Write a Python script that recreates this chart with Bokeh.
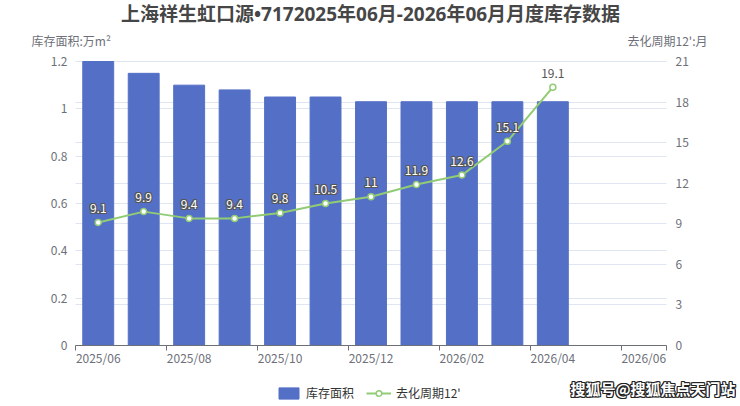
from bokeh.plotting import figure
from bokeh.models import (ColumnDataSource, Range1d, LinearAxis,
                          FixedTicker, Legend, LegendItem)
from bokeh.core.properties import value
from bokeh.embed import file_html
from bokeh.resources import INLINE

FONT = "Noto Sans CJK SC"
TITLE_FONT = "Noto Sans, Noto Sans CJK SC"

title = "上海祥生虹口源•7172025年06月-2026年06月月度库存数据"
months = ["2025/06", "2025/07", "2025/08", "2025/09", "2025/10", "2025/11", "2025/12",
          "2026/01", "2026/02", "2026/03", "2026/04", "2026/05", "2026/06"]
area = [1.2, 1.15, 1.1, 1.08, 1.05, 1.05, 1.03, 1.03, 1.03, 1.03, 1.03]
cycle = [9.1, 9.9, 9.4, 9.4, 9.8, 10.5, 11, 11.9, 12.6, 15.1, 19.1]
left_ticks = [0, 0.2, 0.4, 0.6, 0.8, 1, 1.2]
right_ticks = [0, 3, 6, 9, 12, 15, 18, 21]
left_name = "库存面积:万m²"
right_name = "去化周期12':月"
series_names = ["库存面积", "去化周期12'"]
watermark = "搜狐号@搜狐焦点天门站"

GRAY = "#6E7079"
GRID = "#E0E6F1"
BAR = "#5470c6"
LINE = "#91cc75"

W, H = 740, 406
# plot area inside the canvas (pixels)
L, R, T, B = 75, 666, 61, 345
n = len(months)
left_max, right_max = left_ticks[-1], right_ticks[-1]
px_x = (R - L) / n
px_y = (B - T) / left_max
px_r = (B - T) / right_max

src = ColumnDataSource(data=dict(
    x=[i + 0.5 for i in range(len(area))],
    area=area,
    cycle=cycle,
    label=[f"{v:g}" for v in cycle],
))
# labels that sit on a bar are white with a dark rim, others dark with a white rim
on_bar = [(c + 1.2) / right_max < a / left_max for c, a in zip(cycle, area)]
src.data["fill"] = ["white" if o else "#555555" for o in on_bar]
src.data["rim"] = ["#555555" if o else "white" for o in on_bar]

# the frame covers the whole canvas; axes are pinned to the plot area
p = figure(width=W, height=H,
           x_range=Range1d(-L / px_x, (W - L) / px_x),
           y_range=Range1d(-(H - B) / px_y, B / px_y),
           x_axis_type=None, y_axis_type=None,
           output_backend="svg", toolbar_location=None,
           min_border=0, outline_line_color=None)
p.extra_y_ranges = {"right": Range1d(-(H - B) / px_r, B / px_r)}
p.xgrid.visible = False
p.ygrid.visible = False

# y axes; their long inward ticks act as the grid lines
def y_axis(ticks, **kw):
    return LinearAxis(ticker=FixedTicker(ticks=ticks),
                      major_label_overrides={t: f"{t:g}" for t in ticks},
                      axis_line_color=None, major_tick_line_color=GRID,
                      major_tick_in=int(R - L), major_tick_out=0,
                      minor_tick_line_color=None, level="underlay",
                      major_label_text_color=GRAY, major_label_text_font_size="12px",
                      major_label_text_font=FONT, **kw)

left_ax = y_axis(left_ticks, major_label_standoff=8, fixed_location=0)
right_ax = y_axis(right_ticks, y_range_name="right", major_label_standoff=9,
                  fixed_location=n)
p.add_layout(left_ax, "left")
p.add_layout(right_ax, "right")

# x axis: ticks on category boundaries, labels on every other category
bounds_ticks = list(range(0, n, 2)) + [n]
tick_ax = LinearAxis(ticker=FixedTicker(ticks=bounds_ticks),
                     fixed_location=0, bounds=(0, n),
                     major_label_overrides={t: "" for t in bounds_ticks},
                     major_label_text_color=None,
                     axis_line_color=GRAY, major_tick_line_color=GRAY,
                     major_tick_out=5, major_tick_in=0, minor_tick_line_color=None)
centers = [i + 0.5 for i in range(0, n, 2)]
label_ax = LinearAxis(ticker=FixedTicker(ticks=centers), fixed_location=0,
                      major_label_overrides={c: months[int(c)] for c in centers},
                      axis_line_color=None, major_tick_line_color=None,
                      major_tick_in=0, major_tick_out=0,
                      minor_tick_line_color=None, major_label_standoff=3,
                      major_label_text_color=GRAY, major_label_text_font_size="12px",
                      major_label_text_font=FONT)
p.add_layout(tick_ax, "below")
p.add_layout(label_ax, "below")

bars = p.vbar(x="x", top="area", width=0.68, source=src,
              fill_color=BAR, line_color=BAR)
line = p.line(x="x", y="cycle", source=src, y_range_name="right",
              line_color=LINE, line_width=2)
pts = p.scatter(x="x", y="cycle", source=src, y_range_name="right",
                size=6, fill_color="white", line_color=LINE, line_width=1.5)

# point labels with a rim
for dx in (-1, 0, 1):
    for dy in (-1, 0, 1):
        if dx == 0 and dy == 0:
            continue
        p.text(x="x", y="cycle", text="label", source=src, y_range_name="right",
               x_offset=dx, y_offset=-14 + dy, text_color="rim",
               text_align="center", text_baseline="middle",
               text_font=value(FONT), text_font_size="12px")
p.text(x="x", y="cycle", text="label", source=src, y_range_name="right",
       y_offset=-14, text_color="fill", text_align="center", text_baseline="middle",
       text_font=value(FONT), text_font_size="12px")

# title, axis names, watermark (positions in pixels of the canvas)
def at(px, py):
    return dict(x=[(px - L) / px_x], y=[(B - py) / px_y])

p.text(text=[title], **at(370, 13), text_align="center", text_baseline="middle",
       text_font=value(TITLE_FONT), text_font_size="19px", text_font_style="bold",
       text_color="#464646")
p.text(text=[left_name], **at(31, 40), text_align="left", text_baseline="middle",
       text_font=value(FONT), text_font_size="12px", text_color=GRAY)
p.text(text=[right_name], **at(707, 40), text_align="right", text_baseline="middle",
       text_font=value(FONT), text_font_size="12px", text_color=GRAY)

for dx in (-1, 0, 1):
    for dy in (-1, 0, 1):
        p.text(text=[watermark], **at(735, 388), x_offset=dx, y_offset=dy,
               text_align="right", text_baseline="middle",
               text_font=value(FONT), text_font_size="15px", text_font_style="bold",
               text_color="#222222")
p.text(text=[watermark], **at(735, 388), text_align="right", text_baseline="middle",
       text_font=value(FONT), text_font_size="15px", text_font_style="bold",
       text_color="white")

legend = Legend(items=[LegendItem(label=series_names[0], renderers=[bars]),
                       LegendItem(label=series_names[1], renderers=[line, pts])],
                orientation="horizontal", location=(276, H - 401),
                border_line_color=None, background_fill_alpha=0,
                label_text_font=FONT, label_text_font_size="12px",
                label_text_color="#333333", glyph_width=25, glyph_height=14,
                label_height=14, spacing=12, padding=0, margin=0, label_standoff=5)
p.add_layout(legend, "center")

open("out.html", "w").write(file_html(p, INLINE))
